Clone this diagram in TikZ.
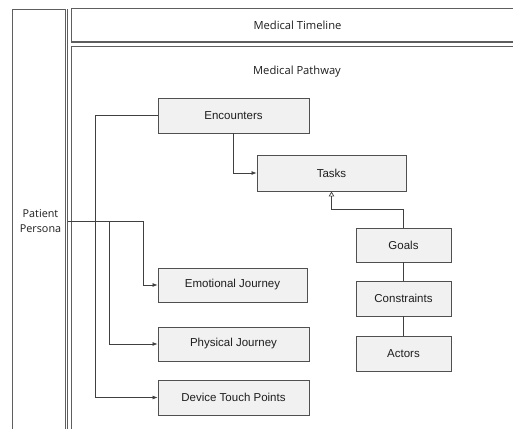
\documentclass[tikz,border=0pt]{standalone}
\usepackage{fontspec}
\setmainfont{Liberation Sans}
\newfontfamily\hdrfont{Open Sans}
\usetikzlibrary{arrows.meta}
\definecolor{frameline}{HTML}{5E5E5E}
\definecolor{boxline}{HTML}{505050}
\definecolor{boxfill}{HTML}{F1F1F1}
\definecolor{ink}{HTML}{1E1E1E}
\definecolor{wire}{HTML}{404040}
\begin{document}
\begin{tikzpicture}[x=1pt,y=-1pt,
  card/.style={draw=boxline,fill=boxfill,line width=0.9pt,inner sep=0pt,
    font=\fontsize{11.5}{13}\selectfont,text=ink},
  lane/.style={draw=frameline,line width=0.8pt},
  hdr/.style={font=\hdrfont\fontsize{11.2}{15}\selectfont,text=ink,inner sep=0pt,align=center},
  wire/.style={draw=wire,line width=0.7pt},
  fwd/.style={wire,-{Latex[length=5pt,width=4pt]}},
  gen/.style={wire,-{Triangle[open,length=5pt,width=5.5pt]}}]
\useasboundingbox (0,0) rectangle (513,428);
\clip (0,0) rectangle (513,428);
\fill[white] (0,0) rectangle (513,428);

% swim lanes
\draw[lane] (12,440) -- (12,9) -- (65.3,9) -- (65.3,440);
\draw[lane] (67.6,9) -- (67.6,440);
\draw[lane] (530,8) -- (71,8) -- (71,41) -- (530,41);
\draw[lane] (71,42.3) -- (530,42.3);
\draw[lane] (530,46) -- (71,46) -- (71,440);

\node[hdr] (timeline) at (297.5,25) {Medical Timeline};
\node[hdr] (pathway) at (297,72) {Medical Pathway};
\node[hdr,font=\hdrfont\fontsize{10.8}{15.5}\selectfont] (persona) at (40.5,221) {Patient\\Persona};
\coordinate (pp) at (67.6,221);

% pathway elements
\node[card,minimum width=151pt,minimum height=35pt] (enc) at (233.5,115.5) {Encounters};
\node[card,minimum width=149pt,minimum height=36pt] (tasks) at (331.5,173) {Tasks};
\node[card,minimum width=95pt,minimum height=34pt] (goals) at (403.5,245) {Goals};
\node[card,minimum width=95pt,minimum height=35pt] (cons) at (403.5,298.5) {Constraints};
\node[card,minimum width=95pt,minimum height=35pt] (actors) at (403.5,353.5) {Actors};
\node[card,minimum width=149pt,minimum height=34pt] (emo) at (232.5,285) {Emotional Journey};
\node[card,minimum width=151pt,minimum height=34pt] (phys) at (233.5,344) {Physical Journey};
\node[card,minimum width=151pt,minimum height=35pt] (dev) at (233.5,397.5) {Device Touch Points};

% connectors
\draw[fwd] (enc.south) |- (tasks.west);
\draw[gen] (goals.north) -- ++(0,-18) -| (tasks.south);
\draw[wire] (goals) -- (cons);
\draw[wire] (cons) -- (actors);
\draw[fwd] (pp) -- (143,221) |- (emo.west);
\draw[fwd] (109,221) |- (phys.west);
\draw[fwd] (enc.west) -- (95,115.5) |- (dev.west);
\end{tikzpicture}
\end{document}
